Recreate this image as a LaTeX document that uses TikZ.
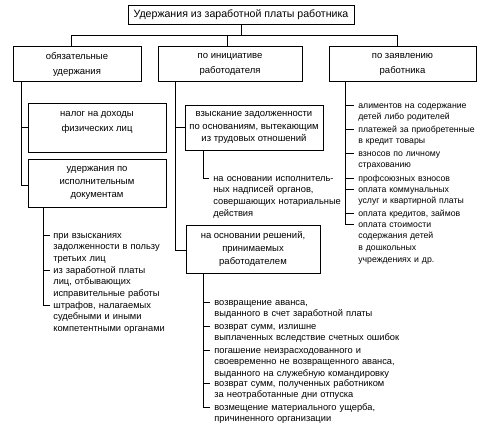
\documentclass[tikz,border=0pt]{standalone}
\usepackage{fontspec}
\setmainfont{Liberation Sans}
\begin{document}
\begin{tikzpicture}[x=1pt,y=-1pt,line width=0.7pt,
  box/.style={draw,rectangle,inner sep=0pt,align=center,font=\fontsize{9.5}{12.5}\selectfont},
  boxtext/.style={inner sep=0pt,align=center,font=\fontsize{9.5}{#1}\selectfont},
  item/.style={anchor=base west,inner sep=0pt,align=left,text width=200pt,font=\fontsize{9.3}{11.8}\selectfont},
  ritem/.style={item,font=\fontsize{8.7}{11.8}\selectfont}]
\useasboundingbox (0,0) rectangle (478,425);
% top level
\node[box,minimum width=226pt,minimum height=19pt,font=\fontsize{10.6}{12}\selectfont] (title) at (241,14.5) {Удержания из заработной платы работника};
\node[box,minimum width=128pt,minimum height=35pt] (b1) at (77,63.5) {};
\node[box,minimum width=144pt,minimum height=35pt] (b2) at (230,63.5) {};
\node[box,minimum width=147pt,minimum height=35pt] (b3) at (402.5,63.5) {};
\node[boxtext=14.5] (b1t) at ([yshift=-1]b1.center) {обязательные\\удержания};
\node[boxtext=14.5] (b2t) at ([yshift=-1]b2.center) {по инициативе\\работодателя};
\node[boxtext=14.5] (b3t) at ([yshift=-1]b3.center) {по заявлению\\работника};
\coordinate (hl) at (71,35);
\coordinate (hm) at (227,35);
\coordinate (hr) at (397,35);
\draw (title.south) -- (title.south |- hl);
\draw (hl) -- (hr);
\draw (hl) -- (hl |- b1.north);
\draw (hm) -- (hm |- b2.north);
\draw (hr) -- (hr |- b3.north);
% left column
\node[box,minimum width=138pt,minimum height=49pt] (tax) at (97,127.5) {};
\node[boxtext=14.5] (taxt) at (97,122.5) {налог на доходы\\физических лиц};
\node[box,minimum width=138pt,minimum height=48pt] (exec) at (97,183) {};
\node[boxtext=13] (exect) at (exec) {удержания по\\исполнительным\\документам};
\coordinate (lc) at (21,185);
\draw (b1.south -| lc) -- (lc) -- (lc -| exec.west);
\draw (lc |- tax.west) -- (tax.west);
\coordinate (la) at (43,235);
\coordinate (lb) at (43,270);
\coordinate (lcc) at (43,305);
\draw (exec.south -| la) -- (lcc);
\draw (la) -- ++(7,0); \draw (lb) -- ++(7,0); \draw (lcc) -- ++(7,0);
\node[item] (l1) at ([shift={(10,3)}]la) {при взысканиях\\задолженности в пользу\\третьих лиц};
\node[item] (l2) at ([shift={(10,3)}]lb) {из заработной платы\\лиц, отбывающих\\исправительные работы};
\node[item] (l3) at ([shift={(10,3)}]lcc) {штрафов, налагаемых\\судебными и иными\\компетентными органами};
% middle column
\node[box,minimum width=138pt,minimum height=45pt] (rec) at (254,127.5) {};
\node[boxtext=12.3] (rect) at (rec) {взыскание задолженности\\по основаниям, вытекающим\\из трудовых отношений};
\node[box,minimum width=134pt,minimum height=48pt] (dec) at (253,249) {};
\node[boxtext=12.7] (dect) at (dec) {на основании решений,\\принимаемых\\работодателем};
\coordinate (mc) at (175,250);
\draw (b2.south -| mc) -- (mc) -- (mc -| dec.west);
\draw (mc |- rec.west) -- (rec.west);
\coordinate (ma) at (203,178);
\draw (rec.south -| ma) -- (ma) -- ++(6,0);
\node[item] (m0) at ([shift={(10,3)}]ma) {на основании исполнитель-\\ных надписей органов,\\совершающих нотариальные\\действия};
\coordinate (m1) at (203,302);
\coordinate (m2) at (203,326);
\coordinate (m3) at (203,350);
\coordinate (m4) at (203,383);
\coordinate (m5) at (203,407);
\draw (dec.south -| m1) -- (m5);
\foreach \c in {m1,m2,m3,m4,m5} {\draw (\c) -- ++(7,0);}
\node[item] (t1) at ([shift={(11,3)}]m1) {возвращение аванса,\\выданного в счет заработной платы};
\node[item] (t2) at ([shift={(11,3)}]m2) {возврат сумм, излишне\\выплаченных вследствие счетных ошибок};
\node[item] (t3) at ([shift={(11,3)}]m3) {погашение неизрасходованного и\\своевременно не возвращенного аванса,\\выданного на служебную командировку};
\node[item] (t4) at ([shift={(11,3)}]m4) {возврат сумм, полученных работником\\за неотработанные дни отпуска};
\node[item] (t5) at ([shift={(11,3)}]m5) {возмещение материального ущерба,\\причиненного организации};
% right column
\coordinate (r1) at (345,105);
\coordinate (r2) at (345,129);
\coordinate (r3) at (345,153);
\coordinate (r4) at (345,178);
\coordinate (r5) at (345,189);
\coordinate (r6) at (345,213);
\coordinate (r7) at (345,224);
\draw (b3.south -| r1) -- (r7);
\foreach \c in {r1,r2,r3,r4,r5,r6,r7} {\draw (\c) -- ++(9,0);}
\node[ritem] (s1) at ([shift={(13,3)}]r1) {алиментов на содержание\\детей либо родителей};
\node[ritem] (s2) at ([shift={(13,3)}]r2) {платежей за приобретенные\\в кредит товары};
\node[ritem] (s3) at ([shift={(13,3)}]r3) {взносов по личному\\страхованию};
\node[ritem] (s4) at ([shift={(13,3)}]r4) {профсоюзных взносов};
\node[ritem] (s5) at ([shift={(13,3)}]r5) {оплата коммунальных\\услуг и квартирной платы};
\node[ritem] (s6) at ([shift={(13,3)}]r6) {оплата кредитов, займов};
\node[ritem] (s7) at ([shift={(13,3)}]r7) {оплата стоимости\\содержания детей\\в дошкольных\\учреждениях и др.};
\end{tikzpicture}
\end{document}
